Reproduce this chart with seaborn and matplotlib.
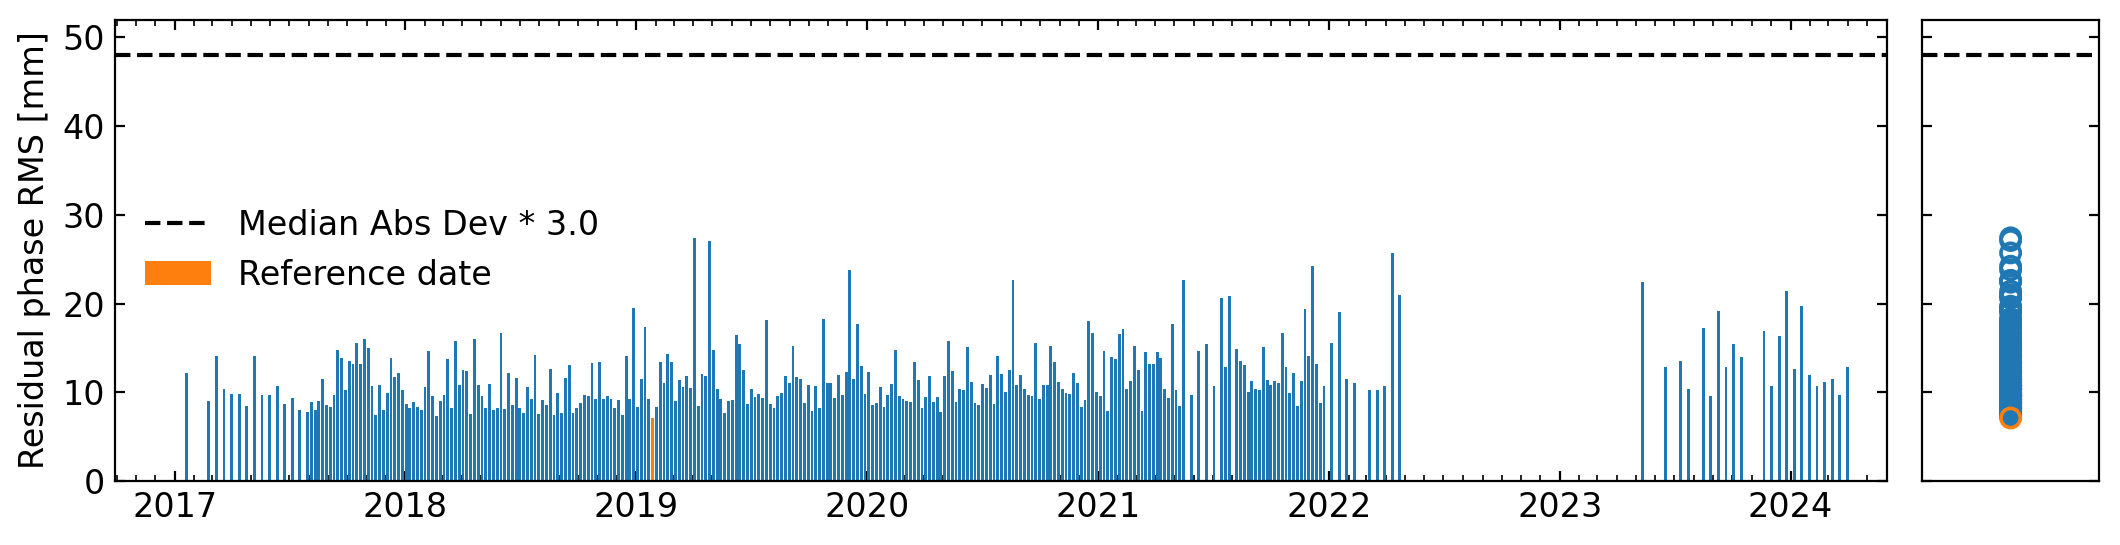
import numpy as np
import pandas as pd
import matplotlib
matplotlib.use("Agg")
import matplotlib.pyplot as plt
import matplotlib.dates as mdates
import seaborn as sns

# Acquisitions sit on a 6-day grid starting at the first date;
# acq_index counts grid steps from that first acquisition.
first_acq = "2017-01-19"
revisit_days = 6
ref_index = 123          # reference date (2019-01-27)
mad_threshold = 48.0     # median abs dev * 3.0

acq_index = [
    0, 6, 8, 10, 12, 14, 16, 18, 20, 22, 24, 26, 28, 30, 32, 33, 34, 35, 36, 37, 38, 39,
    40, 41, 42, 43, 44, 45, 46, 47, 48, 49, 50, 51, 52, 53, 54, 55, 56, 57, 58, 59,
    60, 61, 62, 63, 64, 65, 66, 67, 68, 69, 70, 71, 72, 73, 74, 75, 76, 77, 78, 79,
    80, 81, 82, 83, 84, 85, 86, 87, 88, 89, 90, 91, 92, 93, 94, 95, 96, 97, 98, 99,
    100, 101, 102, 103, 104, 105, 106, 107, 108, 109, 110, 111, 112, 113, 114, 115, 116, 117, 118, 119,
    120, 121, 122, 123, 124, 125, 126, 127, 128, 129, 130, 131, 132, 133, 134, 135, 136, 137, 138, 139,
    140, 141, 142, 143, 144, 145, 146, 147, 148, 149, 150, 151, 152, 153, 154, 155, 156, 157, 158, 159,
    160, 161, 162, 163, 164, 165, 166, 167, 168, 169, 170, 171, 172, 173, 174, 175, 176, 177, 178, 179,
    180, 181, 182, 183, 184, 185, 186, 187, 188, 189, 190, 191, 192, 193, 194, 195, 196, 197, 198, 199,
    200, 201, 202, 203, 204, 205, 206, 207, 208, 209, 210, 211, 212, 213, 214, 215, 216, 217, 218, 219,
    220, 221, 222, 223, 224, 225, 226, 227, 228, 229, 230, 231, 232, 233, 234, 235, 236, 237, 238, 239,
    240, 241, 242, 243, 244, 245, 246, 247, 248, 249, 250, 251, 252, 253, 254, 255, 256, 257, 258, 259,
    260, 261, 262, 263, 265, 267, 269, 271, 273, 274, 275, 277, 278, 279,
    280, 281, 282, 283, 284, 285, 286, 287, 288, 289, 290, 291, 292, 293, 294, 295, 296, 297, 298, 299,
    300, 302, 304, 306, 308, 312, 314, 316, 318, 320,
    384, 390, 394, 396, 400, 402, 404, 406, 408, 410, 416, 418, 420, 422, 424, 426, 428,
    430, 432, 434, 436, 438,
]

rms_mm = [
    12.2, 9.0, 14.1, 10.4, 9.8, 9.8, 8.4, 14.1, 9.7, 9.7, 10.7, 8.7, 9.4, 8.0, 7.8, 8.9, 8.0, 9.0, 11.5, 8.6, 8.3, 9.7,
    14.8, 13.9, 10.3, 13.5, 13.2, 15.6, 13.2, 16.0, 15.0, 10.7, 7.4, 10.8, 8.0, 9.9, 13.9, 11.7, 12.2, 10.3, 8.7, 8.2,
    8.9, 8.3, 8.0, 10.6, 14.7, 9.6, 7.3, 9.0, 9.7, 13.7, 8.2, 15.8, 10.8, 12.5, 12.4, 7.5, 16.0, 10.8, 9.6, 8.2,
    10.9, 8.0, 8.2, 16.7, 8.1, 12.2, 8.6, 11.6, 8.2, 7.7, 10.6, 9.2, 14.2, 7.5, 9.1, 8.6, 12.6, 7.4, 9.9, 7.7,
    11.6, 13.1, 7.7, 8.2, 8.8, 9.7, 9.6, 13.3, 9.2, 13.4, 9.2, 9.6, 9.2, 8.2, 9.1, 7.4, 14.1, 9.2, 19.5, 8.3,
    11.5, 17.4, 9.2, 7.1, 8.3, 13.4, 11.1, 14.3, 13.4, 9.0, 11.4, 10.6, 11.8, 10.5, 27.4, 8.5, 12.1, 11.8, 27.1, 14.8,
    10.4, 9.2, 7.7, 9.0, 9.1, 16.5, 15.4, 12.5, 8.7, 10.4, 9.5, 9.8, 9.4, 18.1, 8.7, 8.2, 9.6, 9.9, 11.8, 11.1,
    15.2, 11.7, 11.5, 8.8, 10.8, 7.9, 10.7, 8.2, 18.3, 11.1, 11.1, 9.4, 12.0, 9.7, 12.3, 23.8, 11.5, 17.7, 13.0, 9.8,
    12.3, 8.6, 8.8, 10.6, 8.3, 9.7, 10.9, 14.8, 9.6, 9.2, 9.0, 8.9, 13.4, 11.4, 8.2, 9.5, 11.8, 8.9, 9.5, 7.8,
    11.8, 15.8, 12.4, 8.9, 10.4, 10.2, 15.1, 11.2, 8.8, 8.6, 10.9, 10.5, 12.0, 8.7, 14.1, 12.1, 10.0, 12.5, 22.6, 10.8,
    12.0, 10.4, 9.7, 9.6, 15.5, 9.2, 10.8, 10.8, 15.2, 13.4, 11.2, 10.4, 9.9, 9.8, 12.2, 11.1, 8.3, 9.1, 18.0, 16.7,
    10.0, 9.6, 14.7, 7.9, 14.0, 13.7, 16.6, 17.1, 10.4, 11.3, 15.2, 12.5, 7.9, 14.5, 13.2, 13.2, 14.5, 13.9, 10.4, 9.4,
    17.7, 10.3, 8.5, 22.6, 9.7, 14.6, 15.4, 10.7, 20.6, 12.9, 20.9, 14.9, 13.5, 13.1,
    10.0, 11.3, 10.4, 10.3, 15.1, 11.4, 10.8, 11.3, 11.1, 16.7, 12.8, 9.9, 12.2, 8.5, 11.3, 19.4, 14.1, 24.2, 13.2, 8.8,
    10.7, 15.5, 19.0, 11.5, 11.1, 10.2, 10.3, 10.7, 25.7, 21.0,
    22.4, 12.8, 13.5, 10.4, 17.2, 9.6, 19.2, 12.8, 15.4, 14.0, 16.9, 10.7, 16.3, 21.4, 12.6, 19.7, 12.0,
    10.7, 11.2, 11.5, 9.7, 12.8,
]

blue = "#1f77b4"
orange = "#ff7f0e"

sns.set_style("ticks", {
    "axes.edgecolor": "black",
    "axes.labelcolor": "black",
    "text.color": "black",
    "xtick.color": "black",
    "ytick.color": "black",
    "xtick.direction": "in",
    "ytick.direction": "in",
})
plt.rcParams["font.family"] = ["DejaVu Sans"]
plt.rcParams["font.size"] = 12

df = pd.DataFrame({"idx": acq_index, "rms": rms_mm})
df["date"] = pd.Timestamp(first_acq) + pd.to_timedelta(df["idx"] * revisit_days, unit="D")
is_ref = df["idx"] == ref_index
others = df[~is_ref]
ref = df[is_ref]

fig = plt.figure(figsize=(10.6, 2.725), dpi=200)
ax = fig.add_axes([0.0541, 0.1174, 0.8358, 0.8468])
ax2 = fig.add_axes([0.9065, 0.1174, 0.0838, 0.8468])

# Time series of residual RMS per date
ax.axhline(mad_threshold, color="black", ls="--", label="Median Abs Dev * 3.0")
ax.bar(others["date"], others["rms"], width=4.5, color=blue, linewidth=0)
ax.bar(ref["date"], ref["rms"], width=4.5, color=orange, linewidth=0,
       label="Reference date")

ax.set_xlim(pd.Timestamp("2016-09-28"), pd.Timestamp("2024-06-01"))
ax.set_ylim(0, 52)
ax.xaxis.set_major_locator(mdates.YearLocator())
ax.xaxis.set_major_formatter(mdates.DateFormatter("%Y"))
ax.xaxis.set_minor_locator(mdates.MonthLocator())
ax.tick_params(which="both", direction="in", top=True, right=True)
ax.set_ylabel("Residual phase RMS [mm]")
ax.legend(loc="center left", frameon=False)

# Distribution of all values in a single column
ax2.axhline(mad_threshold, color="black", ls="--")
sns.scatterplot(x=np.zeros(len(others)), y=others["rms"].values, ax=ax2,
                marker="o", s=48, facecolors="none", edgecolor=blue, linewidth=1.3)
sns.scatterplot(x=np.zeros(len(ref)), y=ref["rms"].values, ax=ax2,
                marker="o", s=48, facecolors="none", edgecolor=orange, linewidth=1.3)
ax2.set_xlim(-1, 1)
ax2.set_ylim(0, 52)
ax2.set_xticks([])
ax2.tick_params(axis="y", which="both", direction="in", left=True, right=True,
                labelleft=False)
ax2.set_xlabel("")
ax2.set_ylabel("")

fig.savefig("out.png", dpi=200)
